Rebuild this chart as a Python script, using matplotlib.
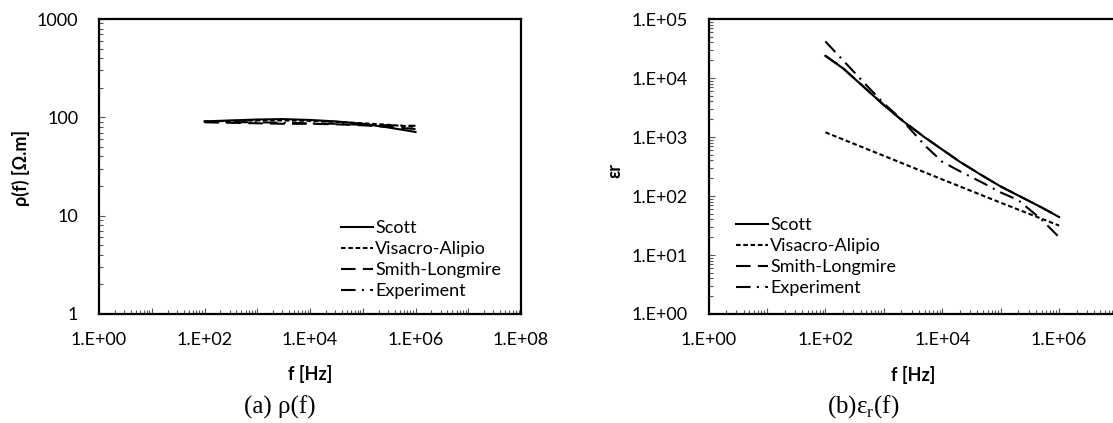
import numpy as np
import matplotlib
matplotlib.use("Agg")
import matplotlib.pyplot as plt
from matplotlib.ticker import FixedLocator, FuncFormatter, NullFormatter
from matplotlib.lines import Line2D

plt.rcParams['font.family'] = ['Lato', 'DejaVu Sans']

# ---- data ----
# (a) resistivity
f_rho = [1e2, 1e3, 3e3, 1e4, 3e4, 1e5, 3e5, 1e6]
rho_scott = [91, 95, 96, 94, 91, 86, 79, 71]
rho_visacro = [91, 93, 93, 92, 90, 87, 84, 80]
rho_smith = [89, 87, 86, 86, 85, 83, 80, 76]
rho_exp = [90, 89, 88, 87, 86, 84, 83, 82]

# (b) relative permittivity
f_eps = [1e2, 2e2, 5e2, 1e3, 2e3, 5e3, 1e4, 2e4, 5e4, 1e5, 2e5, 5e5, 1e6]
eps_scott = [23700, 14600, 6460, 3470, 1950, 986, 612, 380, 217, 145, 102, 64, 44]
eps_smith = [23900, 14700, 6500, 3490, 1960, 990, 614, 381, 218, 145, 102, 64, 44]
eps_exp = [41700, 20000, 7600, 3700, 2000, 725, 380, 263, 166, 115, 85, 40, 20]
f_visacro = [1e2, 1e3, 1e4, 1e5, 1e6]
eps_visacro = [1200, 480, 191, 77, 31.5]

labels = ['Scott', 'Visacro-Alipio', 'Smith-Longmire', 'Experiment']

W, H = 1113, 423
fig = plt.figure(figsize=(W / 100, H / 100), dpi=100)


def px_axes(x0, y0, x1, y1):
    return fig.add_axes([x0 / W, 1 - y1 / H, (x1 - x0) / W, (y1 - y0) / H])


ax1 = px_axes(99, 19, 521, 314)
ax2 = px_axes(708.5, 19, 1176, 314)

lw = 1.5
styles = dict(
    scott=dict(color='black', lw=lw, ls='-'),
    visacro=dict(color='black', lw=lw, ls=(0, (2.2, 1.3))),
    smith=dict(color='black', lw=lw, ls=(0, (7, 3.5))),
    exp=dict(color='black', lw=lw, ls=(0, (7, 3, 1, 3))),
)

ax1.plot(f_rho, rho_smith, **styles['smith'], zorder=2)
ax1.plot(f_rho, rho_exp, **styles['exp'], zorder=2)
ax1.plot(f_rho, rho_visacro, **styles['visacro'], zorder=3)
ax1.plot(f_rho, rho_scott, **styles['scott'], zorder=4)

ax2.plot(f_eps, eps_smith, **styles['smith'], zorder=2)
ax2.plot(f_eps, eps_exp, **styles['exp'], zorder=2)
ax2.plot(f_visacro, eps_visacro, **styles['visacro'], zorder=3)
ax2.plot(f_eps, eps_scott, **styles['scott'], zorder=4)


def make_xfmt(max_exp):
    def fmt(v, p):
        e = round(np.log10(v))
        if e % 2 == 0 and e <= max_exp:
            return '1.E+%02d' % e
        return ''
    return FuncFormatter(fmt)


minor_x = [m * 10.0 ** d for d in range(0, 8) for m in range(2, 10)]

for ax, max_exp in ((ax1, 8), (ax2, 6)):
    ax.set_xscale('log')
    ax.set_yscale('log')
    ax.set_xlim(1, 1e8)
    ax.xaxis.set_major_locator(FixedLocator([10.0 ** d for d in range(0, 9)]))
    ax.xaxis.set_minor_locator(FixedLocator(minor_x))
    ax.xaxis.set_major_formatter(make_xfmt(max_exp))
    ax.xaxis.set_minor_formatter(NullFormatter())
    for s in ax.spines.values():
        s.set_linewidth(1.6)
    ax.tick_params(which='both', direction='in', width=0.8, color='#555555',
                   labelsize=13)
    ax.tick_params(which='major', length=4)
    ax.tick_params(which='minor', length=3)
    ax.tick_params(axis='x', pad=13)
    ax.tick_params(axis='y', pad=15)

ax1.set_ylim(1, 1000)
ax1.yaxis.set_major_locator(FixedLocator([1, 10, 100, 1000]))
ax1.yaxis.set_minor_locator(FixedLocator([m * 10.0 ** d for d in range(0, 3) for m in range(2, 10)]))
ax1.yaxis.set_major_formatter(FuncFormatter(lambda v, p: '%d' % round(v)))
ax1.yaxis.set_minor_formatter(NullFormatter())

ax2.set_ylim(1, 1e5)
ax2.yaxis.set_major_locator(FixedLocator([10.0 ** d for d in range(0, 6)]))
ax2.yaxis.set_minor_locator(FixedLocator([m * 10.0 ** d for d in range(0, 5) for m in range(2, 10)]))
ax2.yaxis.set_major_formatter(FuncFormatter(lambda v, p: '1.E+%02d' % round(np.log10(v))))
ax2.yaxis.set_minor_formatter(NullFormatter())

# axis titles
fig.text(310 / W, 1 - 374 / H, 'f [Hz]', ha='center', va='center', fontsize=13, fontweight='bold')
fig.text(913 / W, 1 - 375 / H, 'f [Hz]', ha='center', va='center', fontsize=13, fontweight='bold')
fig.text(21 / W, 1 - 168 / H, 'ρ(f) [Ω.m]', ha='center', va='center', rotation=90,
         fontsize=13, fontweight='bold')
fig.text(615 / W, 1 - 170 / H, 'εr', ha='center', va='center', rotation=90,
         fontsize=13, fontweight='bold')

# captions
fig.text(280 / W, 1 - 407 / H, '(a) ρ(f)', ha='center', va='center', fontsize=18,
         family=['Liberation Serif', 'DejaVu Serif'])
fig.text(863 / W, 1 - 407 / H, r'(b)ε$_\mathregular{r}$(f)', ha='center', va='center', fontsize=18,
         family=['Liberation Serif', 'DejaVu Serif'])


def add_legend(ax, x_px, y_px):
    handles = [Line2D([], [], **styles[k]) for k in ('scott', 'visacro', 'smith', 'exp')]
    ax.legend(handles, labels, loc='upper left', bbox_to_anchor=(x_px / W, 1 - y_px / H),
              bbox_transform=fig.transFigure, frameon=False, fontsize=13,
              handlelength=1.75, handletextpad=0.15, labelspacing=0.28,
              borderpad=0, borderaxespad=0)


add_legend(ax1, 341, 220)
add_legend(ax2, 736, 217)

fig.savefig('out.png', dpi=100)
